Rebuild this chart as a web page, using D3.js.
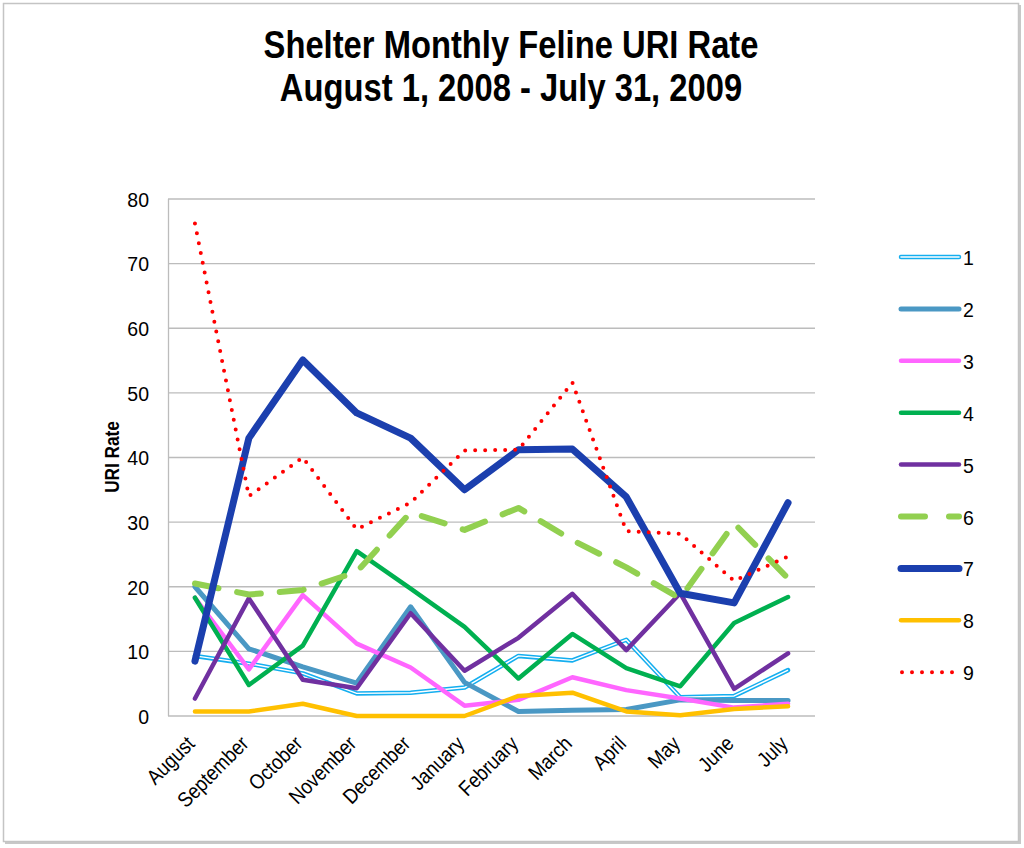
<!DOCTYPE html>
<html lang="en">
  <head>
    <meta charset="UTF-8" />
    <title>Shelter Monthly Feline URI Rate</title>
    <script src="https://cdn.jsdelivr.net/npm/d3@7"></script>
    <style>
      body { margin: 0; background: #fff; }
      svg { display: block; font-family: "Liberation Sans", Arial, sans-serif; }
    </style>
  </head>
  <body>
    <script>
      // months on the x axis
      var months = ["August", "September", "October", "November", "December", "January",
                    "February", "March", "April", "May", "June", "July"];
      var yTicks = [0, 10, 20, 30, 40, 50, 60, 70, 80];

      // one array per series
      var s1 = [9.3, 8.1, 6.6, 3.5, 3.6, 4.4, 9.3, 8.6, 11.8, 2.9, 3.1, 7.1];
      var s2 = [20, 10.4, 7.6, 5.1, 16.9, 5.2, 0.7, 0.9, 1.0, 2.5, 2.4, 2.4];
      var s3 = [18.3, 7.2, 18.7, 11.2, 7.5, 1.6, 2.5, 6.0, 4.0, 2.7, 1.3, 1.9];
      var s4 = [18.3, 4.8, 10.9, 25.5, 19.7, 13.8, 5.8, 12.7, 7.4, 4.6, 14.4, 18.4];
      var s5 = [2.7, 18.2, 5.6, 4.3, 15.9, 7.0, 12.1, 18.9, 10.2, 19.0, 4.2, 9.7];
      var s6 = [20.5, 18.8, 19.5, 22.3, 31.5, 28.8, 32.2, 27.2, 23.0, 18.2, 29.8, 21.3];
      var s7 = [8.5, 43.0, 55.1, 46.9, 43.0, 35.0, 41.2, 41.3, 33.9, 19.0, 17.5, 33.0];
      var s8 = [0.7, 0.7, 1.9, 0.0, 0.0, 0.0, 3.1, 3.6, 0.7, 0.1, 1.1, 1.5];
      var s9 = [76.2, 34.0, 40.0, 28.9, 33.0, 41.1, 41.2, 51.6, 28.6, 28.2, 20.9, 24.7];
      var seriesNames = ["1", "2", "3", "4", "5", "6", "7", "8", "9"];

      var styles = [
        { color: "#14AEEF", width: 4.5, dash: null, inner: true },
        { color: "#4A98C4", width: 5, dash: null },
        { color: "#FF66FF", width: 4.5, dash: null },
        { color: "#00B050", width: 4.5, dash: null },
        { color: "#7030A0", width: 4.5, dash: null },
        { color: "#92D050", width: 6, dash: "24,19" },
        { color: "#1B3FAE", width: 7, dash: null },
        { color: "#FFC000", width: 4.5, dash: null },
        { color: "#FF0000", width: 4, dash: "0,10", round: true }
      ];

      var allSeries = [s1, s2, s3, s4, s5, s6, s7, s8, s9];
      var narrow = 0.84; // fake a narrow font by squeezing text sideways

      var W = 1024, H = 848;
      var svg = d3.select("body").append("svg").attr("width", W).attr("height", H);

      // frame with small shadow
      svg.append("rect").attr("x", 5).attr("y", 5).attr("width", 1016).attr("height", 839)
        .attr("fill", "#c8c8c8");
      svg.append("rect").attr("x", 3.5).attr("y", 3.5).attr("width", 1015).attr("height", 838)
        .attr("fill", "#fff").attr("stroke", "#c4c4c4").attr("stroke-width", 1.5);

      var x = d3.scaleBand().domain(months).range([168, 815]);
      var y = d3.scaleLinear().domain([0, 80]).range([716, 199]);
      var cx = function (m) { return x(m) + x.bandwidth() / 2; };

      // title
      var titleLines = ["Shelter Monthly Feline URI Rate", "August 1, 2008 - July 31, 2009"];
      svg.append("g").selectAll("text").data(titleLines).enter().append("text")
        .attr("transform", function (d, i) {
          return "translate(511," + (58 + i * 43) + ") scale(" + narrow + ",1)";
        })
        .attr("text-anchor", "middle").attr("font-weight", "bold").attr("font-size", 39)
        .text(function (d) { return d; });

      // gridlines
      svg.append("g").selectAll("line").data(yTicks).enter().append("line")
        .attr("x1", 168).attr("x2", 815)
        .attr("y1", function (d) { return y(d); })
        .attr("y2", function (d) { return y(d); })
        .attr("stroke", "#bcbcbc").attr("stroke-width", 1.3);
      svg.append("line").attr("x1", 168.5).attr("x2", 168.5).attr("y1", y(80)).attr("y2", y(0))
        .attr("stroke", "#bcbcbc").attr("stroke-width", 1.3);

      // y axis
      var yAxis = svg.append("g").attr("transform", "translate(168,0)")
        .call(d3.axisLeft(y).tickValues(yTicks).tickSize(0));
      yAxis.attr("font-family", null).attr("font-size", null);
      yAxis.select(".domain").remove();
      yAxis.selectAll("text").attr("font-size", 21).attr("fill", "#000")
        .attr("x", 0).attr("dy", "0.35em")
        .attr("transform", "translate(-19,0) scale(0.93,1)");

      svg.append("text").attr("transform", "translate(119,457) rotate(-90) scale(" + narrow + ",1)")
        .attr("text-anchor", "middle").attr("font-weight", "bold").attr("font-size", 20.5)
        .text("URI Rate");

      // x axis labels
      var xAxis = svg.append("g").attr("transform", "translate(0,716)")
        .call(d3.axisBottom(x).tickSize(0));
      xAxis.attr("font-family", null).attr("font-size", null);
      xAxis.select(".domain").remove();
      xAxis.selectAll("text")
        .attr("font-size", 21).attr("fill", "#000")
        .attr("text-anchor", "end").attr("dy", null).attr("y", 0)
        .attr("transform", "translate(1,29) rotate(-45) scale(0.88,1)");

      // lines
      var line = d3.line().x(function (d, i) { return cx(months[i]); })
        .y(function (d) { return y(d); });

      var lines = svg.append("g").attr("fill", "none");
      allSeries.forEach(function (vals, k) {
        var st = styles[k];
        var p = lines.append("path").attr("d", line(vals))
          .attr("stroke", st.color).attr("stroke-width", st.width)
          .attr("stroke-linejoin", "round")
          .attr("stroke-linecap", "round");
        if (st.dash) p.attr("stroke-dasharray", st.dash);
        if (st.inner) {
          lines.append("path").attr("d", line(vals))
            .attr("stroke", "#fff").attr("stroke-width", 1.4).attr("stroke-linejoin", "round");
        }
      });

      // legend
      var leg = svg.append("g").selectAll("g").data(seriesNames).enter().append("g")
        .attr("transform", function (d, i) { return "translate(0," + (257 + i * 51.9) + ")"; });
      leg.each(function (d, i) {
        var g = d3.select(this), st = styles[i];
        var x1 = st.round ? 902 : 901, x2 = 959;
        var l = g.append("line").attr("x1", x1).attr("x2", x2).attr("y1", 0).attr("y2", 0)
          .attr("stroke", st.color).attr("stroke-width", st.width)
          .attr("stroke-linecap", "round");
        if (st.dash) l.attr("stroke-dasharray", st.round ? "0,10" : "24,24");
        if (st.inner) {
          g.append("line").attr("x1", x1).attr("x2", x2).attr("y1", 0).attr("y2", 0)
            .attr("stroke", "#fff").attr("stroke-width", 1.6).attr("stroke-linecap", "round");
        }
        g.append("text").attr("transform", "translate(963,8) scale(0.93,1)")
          .attr("font-size", 21).text(d);
      });
    </script>
  </body>
</html>
